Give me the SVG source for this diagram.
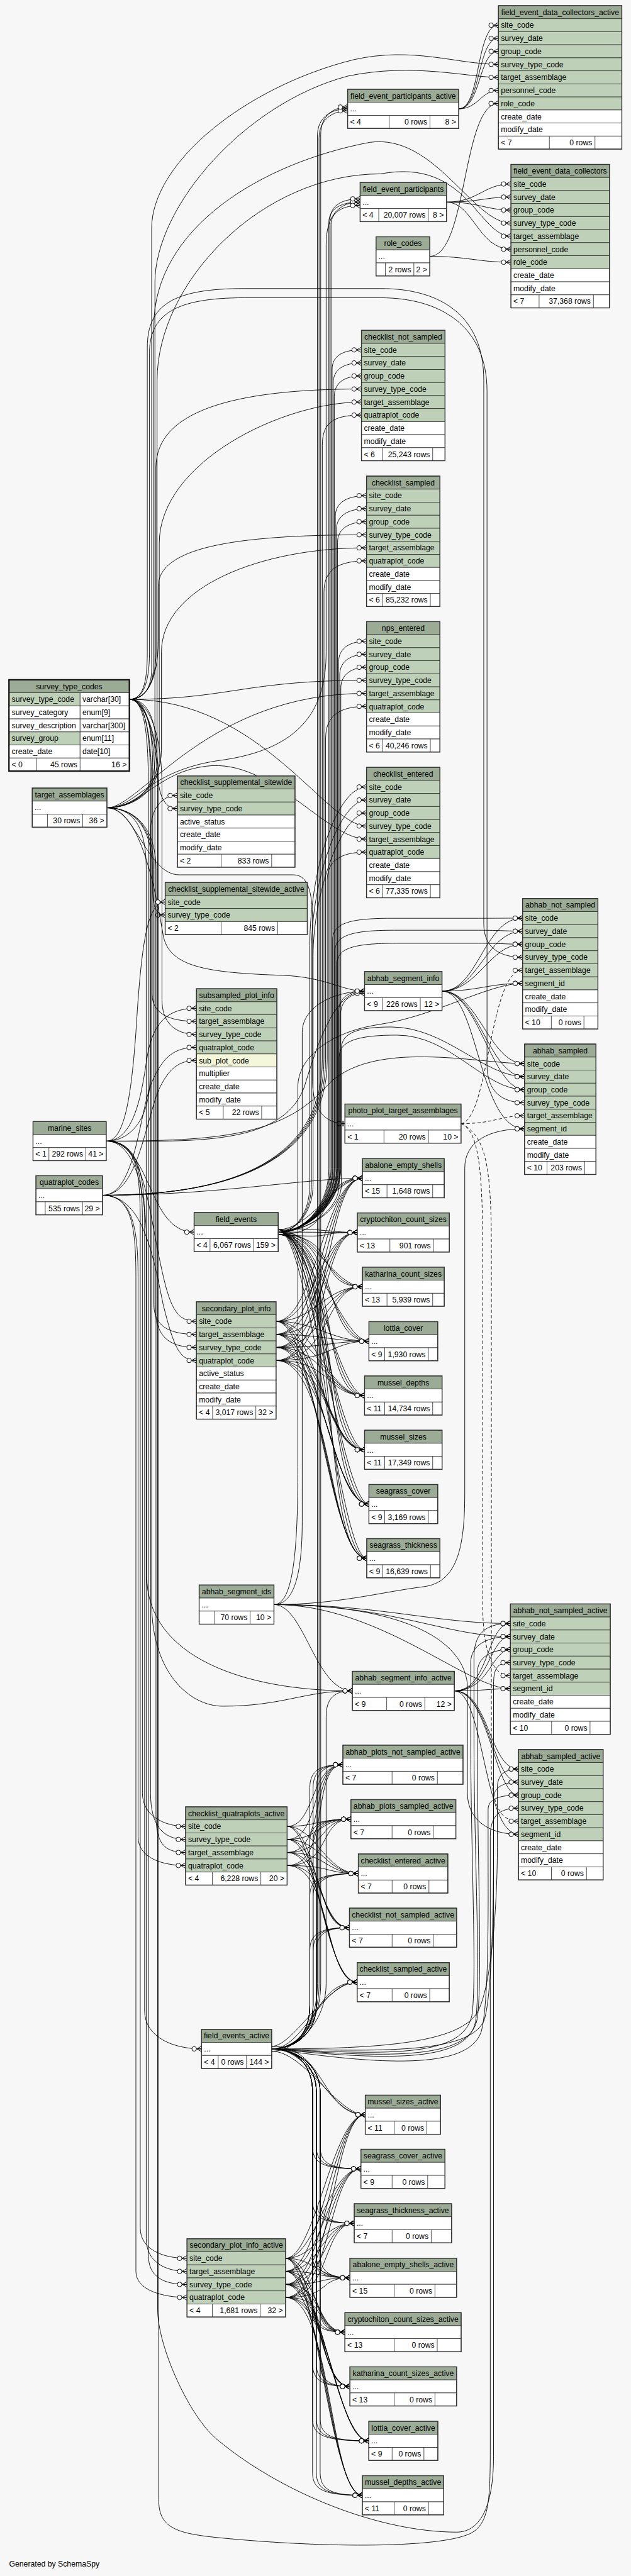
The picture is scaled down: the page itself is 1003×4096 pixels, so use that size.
<svg xmlns="http://www.w3.org/2000/svg" width="1003" height="4096" viewBox="0 0 1003 4096">
<style>
text{font-family:"Liberation Sans",Arial,Helvetica,sans-serif;font-size:14.2px;fill:#000}
.c{text-anchor:middle}
.r{text-anchor:end}
.h{fill:#9bab96;stroke:#333;stroke-width:1}
.k{fill:#bed1b8;stroke:#333;stroke-width:1}
.w{fill:#fff;stroke:#333;stroke-width:1}
.y{fill:#f4f7da;stroke:#333;stroke-width:1}
.o{fill:none;stroke:#333;stroke-width:1.6}
.v{fill:none;stroke:#333;stroke-width:1}
#connectors path{fill:none;stroke:#000;stroke-width:1.05;marker-end:url(#cf)}
#connectors path.d{stroke-dasharray:6 4}
#connectors path.t{marker-end:url(#to)}
</style>
<defs>
<marker id="cf" viewBox="-20 -8 21 16" refX="0" refY="0" markerWidth="21" markerHeight="16" markerUnits="userSpaceOnUse" orient="auto">
<path d="M-9 0L0-5M-9 0H0M-9 0L0 5" fill="none" stroke="#000" stroke-width="1.1"/>
<circle cx="-13.5" cy="0" r="4.2" fill="#fff" stroke="#000" stroke-width="1.1"/>
</marker>
<marker id="to" viewBox="-20 -8 21 16" refX="0" refY="0" markerWidth="21" markerHeight="16" markerUnits="userSpaceOnUse" orient="auto">
<path d="M-3.5-5V5" fill="none" stroke="#000" stroke-width="2"/>
<circle cx="-10.5" cy="0" r="4.2" fill="#fff" stroke="#000" stroke-width="1.1"/>
</marker>
</defs>
<rect x="0" y="0" width="1003" height="4096" fill="#f7f7f7"/>
<g transform="scale(0.864)">
<g id="connectors">
<path d="M843.9 200.3C885 200.3 875 46.4 917 46.4"/>
<path d="M843.9 200.3C885 200.3 878 70.4 917 70.4"/>
<path d="M843.9 200.3C885 200.3 880 94.4 917 94.4"/>
<path d="M843.9 200.3C880 200.3 885 166.4 917 166.4"/>
<path d="M790.7 471.8C860 471.8 850 190.4 917 190.4"/>
<path d="M790.7 471.8C860 471.8 880 482.6 940 482.6"/>
<path d="M821.4 371.9C880 371.9 890 338.6 940 338.6"/>
<path d="M821.4 371.9C880 371.9 895 362.6 940 362.6"/>
<path d="M821.4 371.9C880 371.9 895 386.6 940 386.6"/>
<path d="M821.4 371.9C870 371.9 880 458.6 940 458.6"/>
<path d="M238 1287C262 1287 279 1270 279 1230L279 420C279 300 450 160 650 110C760 85 840 118.4 917 118.4"/>
<path d="M238 1287C264 1287 283 1265 283 1220L283 600C283 420 480 300 680 262C800 245 870 410.6 940 410.6"/>
<path d="M238 1287C266 1287 287 1260 287 1200L287 860C287 760 420 715.9 665 715.9"/>
<path d="M238 1287C270 1287 291 1250 291 1180L291 1080C291 1010 420 984.2 674.3 984.2"/>
<path d="M238 1287C420 1287 450 1252 674.3 1252"/>
<path d="M238 1287C480 1287 600 1520.2 674.3 1520.2"/>
<path d="M238 1287C275 1287 289 1330 289 1400C289 1460 300 1488 326.4 1488"/>
<path d="M238 1287C268 1287 281 1330 281 1420L281 1640C281 1670 288 1684 303.9 1684"/>
<path d="M238 1287C270 1287 298 1340 298 1450L298 1840C298 1880 320 1903.6 361.4 1903.6"/>
<path d="M238 1287C268 1287 285 1340 285 1450L285 2400C285 2460 310 2479.7 361.4 2479.7"/>
<path d="M238 1287C266 1287 277 1340 277 1450L277 3300C277 3360 300 3385.2 341.5 3385.2"/>
<path d="M238 1287C264 1287 273 1340 273 1450L273 4150C273 4190 300 4204.1 344 4204.1"/>
<path d="M238 1287C262 1287 271 1260 271 1200L271 640C271 560 320 531 450 531L700 531C810 531 890 580 890 700L890 1700C890 1745 920 1761.7 961.4 1761.7"/>
<path d="M238 1287C262 1287 275 1260 275 1200L275 650C275 580 320 548 450 548L700 548C810 548 896 600 896 720L896 1960C896 2010 925 2029.4 965 2029.4"/>
<path d="M238 1287C262 1287 292 1340 292 1450L292 4600C292 4650 320 4662 400 4670C600 4690 820 4690 870 4660C900 4640 902 4600 902 4500L902 3380C902 3340 920 3327.7 953.9 3327.7"/>
<path d="M238 1287C262 1287 290 1340 290 1450L290 4250C290 4320 350 4450 400 4490C520 4590 700 4660 840 4660C880 4660 908 4620 908 4520L908 3100C908 3070 915 3059.8 939 3059.8"/>
<path d="M238 1287C264 1287 279 1340 279 1450L279 2950C279 3080 350 3140 410 3140C520 3140 560 3111.8 648.3 3111.8"/>
<path d="M196.7 1486.7C240 1486.7 285 1460 285 1400L285 520C285 380 450 190 640 140C760 115 860 142.4 917 142.4"/>
<path d="M196.7 1486.7C240 1486.7 289 1460 289 1400L289 700C289 520 480 320 700 320C860 290 880 434.6 940 434.6"/>
<path d="M196.7 1486.7C240 1486.7 293 1460 293 1400L293 1000C293 850 520 739.9 665 739.9"/>
<path d="M196.7 1486.7C240 1486.7 297 1450 297 1380L297 1200C297 1080 480 1008.2 674.3 1008.2"/>
<path d="M196.7 1486.7C260 1486.7 380 1276 674.3 1276"/>
<path d="M196.7 1486.7C260 1486.7 290 1420 380 1410C500 1395 600 1544.2 674.3 1544.2"/>
<path class="t" d="M196.7 1486.7C250 1486.7 270 1610 330 1610L540 1610C570 1610 575 1650 575 1700L575 1990C575 2045 600 2067.8 634.6 2067.8"/>
<path d="M196.7 1486.7C245 1486.7 280 1520 280 1600L280 1830C280 1865 310 1879.6 361.4 1879.6"/>
<path d="M196.7 1486.7C245 1486.7 283 1520 283 1600L283 2400C283 2440 310 2455.7 361.4 2455.7"/>
<path d="M196.7 1486.7C245 1486.7 287 1520 287 1600L287 3340C287 3390 300 3409.2 341.5 3409.2"/>
<path d="M196.7 1486.7C245 1486.7 269 1520 269 1600L269 4120C269 4160 300 4180.1 344 4180.1"/>
<path d="M196.7 1486.7C250 1486.7 270 1420 400 1400C560 1380 600 1300 600 1200L600 450C600 395 625 371.9 662.5 371.9"/>
<path d="M196.7 1486.7C250 1486.7 280 1600 300 1720C310 1780 380 1790 520 1795C600 1798 630 1824 670.7 1824"/>
<path d="M195.4 2100C240 2100 276 2060 276 1980L276 1540C276 1490 295 1464 326.4 1464"/>
<path d="M195.4 2100C225 2100 240 2040 250 1900C260 1740 270 1660 303.9 1660"/>
<path d="M195.4 2100C250 2100 262 2000 270 1950C280 1880 310 1855.6 361.4 1855.6"/>
<path d="M195.4 2100C280 2100 270 2267.5 357.1 2267.5"/>
<path d="M195.4 2100C260 2100 270 2200 290 2300C310 2400 320 2431.7 361.4 2431.7"/>
<path d="M195.4 2100C250 2100 262 2150 262 2250L262 3300C262 3340 300 3361.2 341.5 3361.2"/>
<path d="M195.4 2100C250 2100 266 2150 266 2250L266 3700C266 3750 320 3770.7 370.8 3770.7"/>
<path d="M195.4 2100C250 2100 258 2150 258 2250L258 4100C258 4140 300 4156.1 344 4156.1"/>
<path d="M195.4 2100C350 2100 520 2110 560 2000C590 1900 620 1824 670.7 1824"/>
<path d="M195.4 2100C250 2100 270 2200 270 2300L270 2900C270 3050 450 3111.8 648.3 3111.8"/>
<path d="M195.4 2100C400 2100 520 2090 600 2000C680 1910 880 1957.4 965 1957.4"/>
<path d="M188.6 2199.7C250 2199.7 255 2050 280 1990C300 1945 320 1927.6 361.4 1927.6"/>
<path d="M188.6 2199.7C250 2199.7 265 2080 290 2010C310 1965 330 1951.6 361.4 1951.6"/>
<path d="M188.6 2199.7C260 2199.7 280 2300 300 2400C320 2480 330 2503.7 361.4 2503.7"/>
<path d="M188.6 2199.7C240 2199.7 254 2250 254 2350L254 3380C254 3420 300 3433.2 341.5 3433.2"/>
<path d="M188.6 2199.7C240 2199.7 250 2250 250 2350L250 4180C250 4215 300 4228.1 344 4228.1"/>
<path d="M188.6 2199.7C400 2199.7 593 2150 593 1950L593 820C593 780 610 763.9 665 763.9"/>
<path d="M188.6 2199.7C400 2199.7 596 2150 596 1950L596 1090C596 1050 620 1032.2 674.3 1032.2"/>
<path d="M188.6 2199.7C400 2199.7 599 2150 599 1950L599 1360C599 1320 620 1300 674.3 1300"/>
<path d="M188.6 2199.7C400 2199.7 602 2150 602 1950L602 1620C602 1585 625 1568.2 674.3 1568.2"/>
<path d="M188.6 2199.7C400 2199.7 560 2168.3 666.7 2168.3"/>
<path d="M511.8 2267.5C560 2267.5 605 2220 605 2150L605 410C605 382 630 371.9 662.5 371.9"/>
<path d="M511.8 2267.5C560 2267.5 607 2220 607 2150L607 406C607 376 632 366 662.5 366"/>
<path d="M511.8 2267.5C560 2267.5 609 2220 609 2150L609 414C609 388 634 378 662.5 378"/>
<path d="M511.8 2267.5C560 2267.5 611 2220 611 2150L611 680C611 655 630 643.9 665 643.9"/>
<path d="M511.8 2267.5C560 2267.5 613 2220 613 2150L613 705C613 680 632 667.9 665 667.9"/>
<path d="M511.8 2267.5C560 2267.5 615 2220 615 2150L615 730C615 704 634 691.9 665 691.9"/>
<path d="M511.8 2267.5C560 2267.5 617 2220 617 2150L617 950C617 924 640 912.2 674.3 912.2"/>
<path d="M511.8 2267.5C560 2267.5 619 2220 619 2150L619 974C619 948 642 936.2 674.3 936.2"/>
<path d="M511.8 2267.5C560 2267.5 621 2220 621 2150L621 998C621 972 644 960.2 674.3 960.2"/>
<path d="M511.8 2267.5C560 2267.5 623 2220 623 2150L623 1218C623 1192 645 1180 674.3 1180"/>
<path d="M511.8 2267.5C560 2267.5 625 2220 625 2150L625 1242C625 1216 647 1204 674.3 1204"/>
<path d="M511.8 2267.5C560 2267.5 627 2220 627 2150L627 1266C627 1240 649 1228 674.3 1228"/>
<path d="M511.8 2267.5C545 2267.5 570 2230 570 2180L570 1740C570 1600 620 1448.2 674.3 1448.2"/>
<path d="M511.8 2267.5C545 2267.5 573 2230 573 2180L573 1750C573 1620 625 1472.2 674.3 1472.2"/>
<path d="M511.8 2267.5C545 2267.5 576 2230 576 2180L576 1760C576 1640 630 1496.2 674.3 1496.2"/>
<path d="M511.8 2267.5C560 2267.5 622 2220 622 2150L622 1870C622 1836 640 1824 670.7 1824"/>
<path d="M511.8 2267.5C560 2267.5 626 2220 626 2150L626 1872C626 1840 645 1828 670.7 1828"/>
<path d="M511.8 2267.5C560 2267.5 612 2220 612 2150L612 1730C612 1700 640 1690 720 1690L880 1690C920 1690 935 1689.7 961.4 1689.7"/>
<path d="M511.8 2267.5C560 2267.5 616 2220 616 2150L616 1752C616 1722 645 1712 725 1712L880 1712C920 1712 935 1713.7 961.4 1713.7"/>
<path d="M511.8 2267.5C560 2267.5 620 2220 620 2150L620 1774C620 1745 650 1736 730 1736L880 1736C920 1736 935 1737.7 961.4 1737.7"/>
<path d="M511.8 2267.5C560 2267.5 628 2230 628 2180L628 1930C628 1900 660 1890 720 1890C820 1890 890 1981.4 965 1981.4"/>
<path d="M511.8 2267.5C560 2267.5 624 2230 624 2180L624 1945C624 1915 660 1905 730 1905C830 1905 890 2005.4 965 2005.4"/>
<path d="M813.2 1824C880 1824 890 1689.7 961.4 1689.7"/>
<path d="M813.2 1824C880 1824 895 1713.7 961.4 1713.7"/>
<path d="M813.2 1824C880 1824 900 1737.7 961.4 1737.7"/>
<path d="M813.2 1824C880 1824 900 1809.7 961.4 1809.7"/>
<path d="M813.2 1824C880 1824 900 1957.4 965 1957.4"/>
<path d="M813.2 1824C880 1824 900 1981.4 965 1981.4"/>
<path d="M813.2 1824C880 1824 905 2005.4 965 2005.4"/>
<path d="M813.2 1824C880 1824 880 2077.4 965 2077.4"/>
<path d="M504 2953C540 2953 556 2900 556 2800L556 1900C556 1850 620 1824 670.7 1824"/>
<path d="M504 2953C560 2953 580 3111.8 648.3 3111.8"/>
<path d="M504 2953C700 2953 800 2987.8 939 2987.8"/>
<path d="M504 2953C700 2953 860 3107.8 939 3107.8"/>
<path d="M504 2953C620 2953 700 2930 780 2920C840 2912 855 2850 855 2750L855 2150C855 2100 900 2077.4 965 2077.4"/>
<path d="M504 2953C700 2953 850 3000 860 3100L860 3300C860 3350 900 3375.7 953.9 3375.7"/>
<path d="M504 2953C540 2953 548 2850 548 2700L548 2000C548 1950 600 1900 700 1885C800 1870 900 1809.7 961.4 1809.7"/>
<path d="M504 2953C720 2953 820 3011.8 939 3011.8"/>
<path d="M835.9 3111.8C900 3111.8 895 2987.8 939 2987.8"/>
<path d="M835.9 3111.8C900 3111.8 900 3011.8 939 3011.8"/>
<path d="M835.9 3111.8C900 3111.8 905 3035.8 939 3035.8"/>
<path d="M835.9 3111.8C890 3111.8 900 3107.8 939 3107.8"/>
<path d="M835.9 3111.8C900 3111.8 900 3255.7 953.9 3255.7"/>
<path d="M835.9 3111.8C900 3111.8 905 3279.7 953.9 3279.7"/>
<path d="M835.9 3111.8C900 3111.8 910 3303.7 953.9 3303.7"/>
<path d="M835.9 3111.8C890 3111.8 890 3375.7 953.9 3375.7"/>
<path class="d" d="M848.2 2067.8C900 2060 900 1785.7 961.4 1785.7"/>
<path class="d" d="M848.2 2067.8C910 2067.8 920 2053.4 965 2053.4"/>
<path class="d" d="M848.2 2067.8C880 2080 888 2150 888 2300L888 2950C888 3050 910 3083.8 939 3083.8"/>
<path class="d" d="M848.2 2067.8C895 2090 904 2150 904 2300L904 3250C904 3330 925 3351.7 953.9 3351.7"/>
<path d="M499.8 3770.7C700 3770.7 850 3760 880 3700C905 3650 915 3500 915 3400L915 3290C915 3265 930 3255.7 953.9 3255.7"/>
<path d="M499.8 3770.7C700 3775 860 3780 890 3720C905 3680 908 3500 908 3420L908 3310C908 3290 925 3279.7 953.9 3279.7"/>
<path d="M499.8 3770.7C700 3800 860 3810 885 3740C900 3690 898 3500 898 3420L898 3330C898 3310 920 3303.7 953.9 3303.7"/>
<path d="M499.8 3770.7C700 3790 860 3800 875 3720C885 3650 872 3400 872 3200L872 3050C872 3000 900 2987.8 939 2987.8"/>
<path d="M499.8 3770.7C700 3780 850 3790 868 3710C878 3650 866 3400 866 3200L866 3060C866 3025 900 3011.8 939 3011.8"/>
<path d="M499.8 3770.7C700 3785 865 3795 878 3715C888 3650 878 3400 878 3200L878 3080C878 3048 905 3035.8 939 3035.8"/>
<path d="M499.8 3770.7C550 3770.7 600 3720 600 3650L600 3160C600 3125 615 3111.8 648.3 3111.8"/>
<path d="M499.8 3770.7C545 3770.7 584 3730 584 3650L584 250C584 215 610 200.3 639.6 200.3"/>
<path d="M499.8 3770.7C545 3770.7 587 3730 587 3650L587 254C587 220 612 204 639.6 204"/>
<path d="M499.8 3770.7C545 3770.7 590 3730 590 3650L590 248C590 212 614 197 639.6 197"/>
<path d="M511.8 2267.5C600 2267.5 596.7 2168.3 666.7 2168.3"/>
<path d="M511.8 2263C570 2263 616.7 2168.3 666.7 2168.3"/>
<path d="M511.8 2272C630 2272 576.7 2168.3 666.7 2168.3"/>
<path d="M511.8 2267.5C600 2267.5 587.3 2268.2 657.3 2268.2"/>
<path d="M511.8 2263C570 2258 607.3 2268.2 657.3 2268.2"/>
<path d="M511.8 2272C630 2280 567.3 2268.2 657.3 2268.2"/>
<path d="M511.8 2267.5C600 2267.5 596.7 2368 666.7 2368"/>
<path d="M511.8 2263C570 2263 616.7 2368 666.7 2368"/>
<path d="M511.8 2272C630 2272 576.7 2368 666.7 2368"/>
<path d="M511.8 2267.5C600 2267.5 608.7 2468.3 678.7 2468.3"/>
<path d="M511.8 2263C570 2263 628.7 2468.3 678.7 2468.3"/>
<path d="M511.8 2272C630 2272 588.7 2468.3 678.7 2468.3"/>
<path d="M511.8 2267.5C600 2267.5 600.7 2568.2 670.7 2568.2"/>
<path d="M511.8 2263C570 2263 620.7 2568.2 670.7 2568.2"/>
<path d="M511.8 2272C630 2272 580.7 2568.2 670.7 2568.2"/>
<path d="M511.8 2267.5C600 2267.5 600.7 2668.1 670.7 2668.1"/>
<path d="M511.8 2263C570 2263 620.7 2668.1 670.7 2668.1"/>
<path d="M511.8 2272C630 2272 580.7 2668.1 670.7 2668.1"/>
<path d="M511.8 2267.5C600 2267.5 608.7 2768 678.7 2768"/>
<path d="M511.8 2263C570 2263 628.7 2768 678.7 2768"/>
<path d="M511.8 2272C630 2272 588.7 2768 678.7 2768"/>
<path d="M511.8 2267.5C600 2267.5 604.7 2867.7 674.7 2867.7"/>
<path d="M511.8 2263C570 2263 624.7 2867.7 674.7 2867.7"/>
<path d="M511.8 2272C630 2272 584.7 2867.7 674.7 2867.7"/>
<path d="M507.9 2431.7C580 2431.7 596.7 2168.3 666.7 2168.3"/>
<path d="M507.9 2455.7C590 2455.7 596.7 2168.3 666.7 2168.3"/>
<path d="M507.9 2479.7C600 2479.7 596.7 2168.3 666.7 2168.3"/>
<path d="M507.9 2503.7C610 2503.7 596.7 2168.3 666.7 2168.3"/>
<path d="M507.9 2431.7C580 2431.7 587.3 2268.2 657.3 2268.2"/>
<path d="M507.9 2455.7C590 2455.7 587.3 2268.2 657.3 2268.2"/>
<path d="M507.9 2479.7C600 2479.7 587.3 2268.2 657.3 2268.2"/>
<path d="M507.9 2503.7C610 2503.7 587.3 2268.2 657.3 2268.2"/>
<path d="M507.9 2431.7C580 2431.7 596.7 2368 666.7 2368"/>
<path d="M507.9 2455.7C590 2455.7 596.7 2368 666.7 2368"/>
<path d="M507.9 2479.7C600 2479.7 596.7 2368 666.7 2368"/>
<path d="M507.9 2503.7C610 2503.7 596.7 2368 666.7 2368"/>
<path d="M507.9 2431.7C580 2431.7 608.7 2468.3 678.7 2468.3"/>
<path d="M507.9 2455.7C590 2455.7 608.7 2468.3 678.7 2468.3"/>
<path d="M507.9 2479.7C600 2479.7 608.7 2468.3 678.7 2468.3"/>
<path d="M507.9 2503.7C610 2503.7 608.7 2468.3 678.7 2468.3"/>
<path d="M507.9 2431.7C580 2431.7 600.7 2568.2 670.7 2568.2"/>
<path d="M507.9 2455.7C590 2455.7 600.7 2568.2 670.7 2568.2"/>
<path d="M507.9 2479.7C600 2479.7 600.7 2568.2 670.7 2568.2"/>
<path d="M507.9 2503.7C610 2503.7 600.7 2568.2 670.7 2568.2"/>
<path d="M507.9 2431.7C580 2431.7 600.7 2668.1 670.7 2668.1"/>
<path d="M507.9 2455.7C590 2455.7 600.7 2668.1 670.7 2668.1"/>
<path d="M507.9 2479.7C600 2479.7 600.7 2668.1 670.7 2668.1"/>
<path d="M507.9 2503.7C610 2503.7 600.7 2668.1 670.7 2668.1"/>
<path d="M507.9 2431.7C580 2431.7 608.7 2768 678.7 2768"/>
<path d="M507.9 2455.7C590 2455.7 608.7 2768 678.7 2768"/>
<path d="M507.9 2479.7C600 2479.7 608.7 2768 678.7 2768"/>
<path d="M507.9 2503.7C610 2503.7 608.7 2768 678.7 2768"/>
<path d="M507.9 2431.7C580 2431.7 604.7 2867.7 674.7 2867.7"/>
<path d="M507.9 2455.7C590 2455.7 604.7 2867.7 674.7 2867.7"/>
<path d="M507.9 2479.7C600 2479.7 604.7 2867.7 674.7 2867.7"/>
<path d="M507.9 2503.7C610 2503.7 604.7 2867.7 674.7 2867.7"/>
<path d="M528.2 3361.2C580 3361.2 570.8 3247.7 630.8 3247.7"/>
<path d="M528.2 3385.2C590 3385.2 570.8 3247.7 630.8 3247.7"/>
<path d="M528.2 3409.2C600 3409.2 570.8 3247.7 630.8 3247.7"/>
<path d="M528.2 3433.2C610 3433.2 570.8 3247.7 630.8 3247.7"/>
<path d="M528.2 3361.2C580 3361.2 585.6 3347.9 645.6 3347.9"/>
<path d="M528.2 3385.2C590 3385.2 585.6 3347.9 645.6 3347.9"/>
<path d="M528.2 3409.2C600 3409.2 585.6 3347.9 645.6 3347.9"/>
<path d="M528.2 3433.2C610 3433.2 585.6 3347.9 645.6 3347.9"/>
<path d="M528.2 3361.2C580 3361.2 599.2 3447.9 659.2 3447.9"/>
<path d="M528.2 3385.2C590 3385.2 599.2 3447.9 659.2 3447.9"/>
<path d="M528.2 3409.2C600 3409.2 599.2 3447.9 659.2 3447.9"/>
<path d="M528.2 3433.2C610 3433.2 599.2 3447.9 659.2 3447.9"/>
<path d="M528.2 3361.2C580 3361.2 582.9 3547.6 642.9 3547.6"/>
<path d="M528.2 3385.2C590 3385.2 582.9 3547.6 642.9 3547.6"/>
<path d="M528.2 3409.2C600 3409.2 582.9 3547.6 642.9 3547.6"/>
<path d="M528.2 3433.2C610 3433.2 582.9 3547.6 642.9 3547.6"/>
<path d="M528.2 3361.2C580 3361.2 597.1 3647.9 657.1 3647.9"/>
<path d="M528.2 3385.2C590 3385.2 597.1 3647.9 657.1 3647.9"/>
<path d="M528.2 3409.2C600 3409.2 597.1 3647.9 657.1 3647.9"/>
<path d="M528.2 3433.2C610 3433.2 597.1 3647.9 657.1 3647.9"/>
<path d="M499.8 3770.7C545 3770.7 570 3740 570 3690L570 3290C570 3258 590 3247.7 630.8 3247.7"/>
<path d="M499.8 3770.7C545 3770.7 576 3740 576 3690L576 3290C576 3258 596 3247.7 630.8 3247.7"/>
<path d="M499.8 3770.7C545 3770.7 582 3740 582 3690L582 3290C582 3258 602 3247.7 630.8 3247.7"/>
<path d="M499.8 3770.7C545 3770.7 570 3740 570 3690L570 3390C570 3358 590 3347.9 645.6 3347.9"/>
<path d="M499.8 3770.7C545 3770.7 576 3740 576 3690L576 3390C576 3358 596 3347.9 645.6 3347.9"/>
<path d="M499.8 3770.7C545 3770.7 582 3740 582 3690L582 3390C582 3358 602 3347.9 645.6 3347.9"/>
<path d="M499.8 3770.7C545 3770.7 570 3740 570 3690L570 3490C570 3458 590 3447.9 659.2 3447.9"/>
<path d="M499.8 3770.7C545 3770.7 576 3740 576 3690L576 3490C576 3458 596 3447.9 659.2 3447.9"/>
<path d="M499.8 3770.7C545 3770.7 582 3740 582 3690L582 3490C582 3458 602 3447.9 659.2 3447.9"/>
<path d="M499.8 3770.7C545 3770.7 570 3740 570 3690L570 3590C570 3558 590 3547.6 642.9 3547.6"/>
<path d="M499.8 3770.7C545 3770.7 576 3740 576 3690L576 3590C576 3558 596 3547.6 642.9 3547.6"/>
<path d="M499.8 3770.7C545 3770.7 582 3740 582 3690L582 3590C582 3558 602 3547.6 642.9 3547.6"/>
<path d="M499.8 3770.7C560 3770.7 590 3647.9 657.1 3647.9"/>
<path d="M499.8 3766C540 3766 600 3647.9 657.1 3647.9"/>
<path d="M499.8 3775C580 3775 570 3647.9 657.1 3647.9"/>
<path d="M499.8 3770.7C580 3770.7 600 3891.8 672 3891.8"/>
<path d="M499.8 3775C560 3775 620 3891.8 672 3891.8"/>
<path d="M499.8 3766C600 3766 590 3891.8 672 3891.8"/>
<path d="M499.8 3770.7C545 3770.7 575 3800 575 3850L575 3950C575 3982 595 3991.4 664 3991.4"/>
<path d="M499.8 3770.7C545 3770.7 582 3800 582 3850L582 3950C582 3982 602 3991.4 664 3991.4"/>
<path d="M499.8 3770.7C545 3770.7 589 3800 589 3850L589 3950C589 3982 609 3991.4 664 3991.4"/>
<path d="M499.8 3770.7C545 3770.7 575 3800 575 3850L575 4050C575 4082 595 4091.6 651.7 4091.6"/>
<path d="M499.8 3770.7C545 3770.7 582 3800 582 3850L582 4050C582 4082 602 4091.6 651.7 4091.6"/>
<path d="M499.8 3770.7C545 3770.7 589 3800 589 3850L589 4050C589 4082 609 4091.6 651.7 4091.6"/>
<path d="M499.8 3770.7C545 3770.7 575 3800 575 3850L575 4150C575 4182 595 4191.9 643.7 4191.9"/>
<path d="M499.8 3770.7C545 3770.7 582 3800 582 3850L582 4150C582 4182 602 4191.9 643.7 4191.9"/>
<path d="M499.8 3770.7C545 3770.7 589 3800 589 3850L589 4150C589 4182 609 4191.9 643.7 4191.9"/>
<path d="M499.8 3770.7C545 3770.7 575 3800 575 3850L575 4250C575 4282 595 4292 634.5 4292"/>
<path d="M499.8 3770.7C545 3770.7 582 3800 582 3850L582 4250C582 4282 602 4292 634.5 4292"/>
<path d="M499.8 3770.7C545 3770.7 589 3800 589 3850L589 4250C589 4282 609 4292 634.5 4292"/>
<path d="M499.8 3770.7C545 3770.7 575 3800 575 3850L575 4350C575 4382 595 4391.8 643.7 4391.8"/>
<path d="M499.8 3770.7C545 3770.7 582 3800 582 3850L582 4350C582 4382 602 4391.8 643.7 4391.8"/>
<path d="M499.8 3770.7C545 3770.7 589 3800 589 3850L589 4350C589 4382 609 4391.8 643.7 4391.8"/>
<path d="M499.8 3770.7C545 3770.7 575 3800 575 3850L575 4450C575 4482 595 4492 678.5 4492"/>
<path d="M499.8 3770.7C545 3770.7 582 3800 582 3850L582 4450C582 4482 602 4492 678.5 4492"/>
<path d="M499.8 3770.7C545 3770.7 589 3800 589 3850L589 4450C589 4482 609 4492 678.5 4492"/>
<path d="M499.8 3770.7C545 3770.7 575 3800 575 3850L575 4550C575 4582 595 4592.2 666.6 4592.2"/>
<path d="M499.8 3770.7C545 3770.7 582 3800 582 3850L582 4550C582 4582 602 4592.2 666.6 4592.2"/>
<path d="M499.8 3770.7C545 3770.7 589 3800 589 3850L589 4550C589 4582 609 4592.2 666.6 4592.2"/>
<path d="M525.4 4156.1C580 4156.1 612 3891.8 672 3891.8"/>
<path d="M525.4 4180.1C590 4180.1 612 3891.8 672 3891.8"/>
<path d="M525.4 4204.1C600 4204.1 612 3891.8 672 3891.8"/>
<path d="M525.4 4228.1C610 4228.1 612 3891.8 672 3891.8"/>
<path d="M525.4 4156.1C580 4156.1 604 3991.4 664 3991.4"/>
<path d="M525.4 4180.1C590 4180.1 604 3991.4 664 3991.4"/>
<path d="M525.4 4204.1C600 4204.1 604 3991.4 664 3991.4"/>
<path d="M525.4 4228.1C610 4228.1 604 3991.4 664 3991.4"/>
<path d="M525.4 4156.1C580 4156.1 591.7 4091.6 651.7 4091.6"/>
<path d="M525.4 4180.1C590 4180.1 591.7 4091.6 651.7 4091.6"/>
<path d="M525.4 4204.1C600 4204.1 591.7 4091.6 651.7 4091.6"/>
<path d="M525.4 4228.1C610 4228.1 591.7 4091.6 651.7 4091.6"/>
<path d="M525.4 4156.1C580 4156.1 583.7 4191.9 643.7 4191.9"/>
<path d="M525.4 4180.1C590 4180.1 583.7 4191.9 643.7 4191.9"/>
<path d="M525.4 4204.1C600 4204.1 583.7 4191.9 643.7 4191.9"/>
<path d="M525.4 4228.1C610 4228.1 583.7 4191.9 643.7 4191.9"/>
<path d="M525.4 4156.1C580 4156.1 574.5 4292 634.5 4292"/>
<path d="M525.4 4180.1C590 4180.1 574.5 4292 634.5 4292"/>
<path d="M525.4 4204.1C600 4204.1 574.5 4292 634.5 4292"/>
<path d="M525.4 4228.1C610 4228.1 574.5 4292 634.5 4292"/>
<path d="M525.4 4156.1C580 4156.1 583.7 4391.8 643.7 4391.8"/>
<path d="M525.4 4180.1C590 4180.1 583.7 4391.8 643.7 4391.8"/>
<path d="M525.4 4204.1C600 4204.1 583.7 4391.8 643.7 4391.8"/>
<path d="M525.4 4228.1C610 4228.1 583.7 4391.8 643.7 4391.8"/>
<path d="M525.4 4156.1C580 4156.1 618.5 4492 678.5 4492"/>
<path d="M525.4 4180.1C590 4180.1 618.5 4492 678.5 4492"/>
<path d="M525.4 4204.1C600 4204.1 618.5 4492 678.5 4492"/>
<path d="M525.4 4228.1C610 4228.1 618.5 4492 678.5 4492"/>
<path d="M525.4 4156.1C580 4156.1 606.6 4592.2 666.6 4592.2"/>
<path d="M525.4 4180.1C590 4180.1 606.6 4592.2 666.6 4592.2"/>
<path d="M525.4 4204.1C600 4204.1 606.6 4592.2 666.6 4592.2"/>
<path d="M525.4 4228.1C610 4228.1 606.6 4592.2 666.6 4592.2"/>
</g>

<g id="field_event_data_collectors_active">
<rect class="h" x="917" y="10.4" width="227" height="24"/><text class="c" x="1030.5" y="27.4">field_event_data_collectors_active</text>
<rect class="k" x="917" y="34.4" width="227" height="24"/><text x="921.5" y="51.4">site_code</text>
<rect class="k" x="917" y="58.4" width="227" height="24"/><text x="921.5" y="75.4">survey_date</text>
<rect class="k" x="917" y="82.4" width="227" height="24"/><text x="921.5" y="99.4">group_code</text>
<rect class="k" x="917" y="106.4" width="227" height="24"/><text x="921.5" y="123.4">survey_type_code</text>
<rect class="k" x="917" y="130.4" width="227" height="24"/><text x="921.5" y="147.4">target_assemblage</text>
<rect class="k" x="917" y="154.4" width="227" height="24"/><text x="921.5" y="171.4">personnel_code</text>
<rect class="k" x="917" y="178.4" width="227" height="24"/><text x="921.5" y="195.4">role_code</text>
<rect class="w" x="917" y="202.4" width="227" height="24"/><text x="921.5" y="219.4">create_date</text>
<rect class="w" x="917" y="226.4" width="227" height="24"/><text x="921.5" y="243.4">modify_date</text>
<rect class="w" x="917" y="250.4" width="227" height="24"/><path class="v" d="M1010.7 250.4v24M1094.6 250.4v24"/>
<text x="921.5" y="267.4">&lt; 7</text><text class="r" x="1089.6" y="267.4">0 rows</text>
<rect class="o" x="917" y="10.4" width="227" height="264"/>
</g>

<g id="field_event_participants_active">
<rect class="h" x="639.6" y="164.3" width="204.3" height="24"/><text class="c" x="741.75" y="181.3">field_event_participants_active</text>
<rect class="w" x="639.6" y="188.3" width="204.3" height="24"/><text x="644.1" y="205.3">...</text>
<rect class="w" x="639.6" y="212.3" width="204.3" height="24"/><path class="v" d="M716 212.3v24M791 212.3v24"/>
<text x="644.1" y="229.3">&lt; 4</text><text class="r" x="786" y="229.3">0 rows</text><text class="r" x="838.9" y="229.3">8 &gt;</text>
<rect class="o" x="639.6" y="164.3" width="204.3" height="72"/>
</g>

<g id="field_event_participants">
<rect class="h" x="662.5" y="335.9" width="158.9" height="24"/><text class="c" x="741.95" y="352.9">field_event_participants</text>
<rect class="w" x="662.5" y="359.9" width="158.9" height="24"/><text x="667" y="376.9">...</text>
<rect class="w" x="662.5" y="383.9" width="158.9" height="24"/><path class="v" d="M696.8 383.9v24M787.9 383.9v24"/>
<text x="667" y="400.9">&lt; 4</text><text class="r" x="782.9" y="400.9">20,007 rows</text><text class="r" x="816.4" y="400.9">8 &gt;</text>
<rect class="o" x="662.5" y="335.9" width="158.9" height="72"/>
</g>

<g id="role_codes">
<rect class="h" x="691.8" y="435.8" width="98.9" height="24"/><text class="c" x="741.25" y="452.8">role_codes</text>
<rect class="w" x="691.8" y="459.8" width="98.9" height="24"/><text x="696.3" y="476.8">...</text>
<rect class="w" x="691.8" y="483.8" width="98.9" height="24"/><path class="v" d="M708.9 483.8v24M761.4 483.8v24"/>
<text class="r" x="756.4" y="500.8">2 rows</text><text class="r" x="785.7" y="500.8">2 &gt;</text>
<rect class="o" x="691.8" y="435.8" width="98.9" height="72"/>
</g>

<g id="field_event_data_collectors">
<rect class="h" x="940" y="302.6" width="181.4" height="24"/><text class="c" x="1030.7" y="319.6">field_event_data_collectors</text>
<rect class="k" x="940" y="326.6" width="181.4" height="24"/><text x="944.5" y="343.6">site_code</text>
<rect class="k" x="940" y="350.6" width="181.4" height="24"/><text x="944.5" y="367.6">survey_date</text>
<rect class="k" x="940" y="374.6" width="181.4" height="24"/><text x="944.5" y="391.6">group_code</text>
<rect class="k" x="940" y="398.6" width="181.4" height="24"/><text x="944.5" y="415.6">survey_type_code</text>
<rect class="k" x="940" y="422.6" width="181.4" height="24"/><text x="944.5" y="439.6">target_assemblage</text>
<rect class="k" x="940" y="446.6" width="181.4" height="24"/><text x="944.5" y="463.6">personnel_code</text>
<rect class="k" x="940" y="470.6" width="181.4" height="24"/><text x="944.5" y="487.6">role_code</text>
<rect class="w" x="940" y="494.6" width="181.4" height="24"/><text x="944.5" y="511.6">create_date</text>
<rect class="w" x="940" y="518.6" width="181.4" height="24"/><text x="944.5" y="535.6">modify_date</text>
<rect class="w" x="940" y="542.6" width="181.4" height="24"/><path class="v" d="M991.8 542.6v24M1091.8 542.6v24"/>
<text x="944.5" y="559.6">&lt; 7</text><text class="r" x="1086.8" y="559.6">37,368 rows</text>
<rect class="o" x="940" y="302.6" width="181.4" height="264"/>
</g>

<g id="checklist_not_sampled">
<rect class="h" x="665" y="607.9" width="153.7" height="24"/><text class="c" x="741.85" y="624.9">checklist_not_sampled</text>
<rect class="k" x="665" y="631.9" width="153.7" height="24"/><text x="669.5" y="648.9">site_code</text>
<rect class="k" x="665" y="655.9" width="153.7" height="24"/><text x="669.5" y="672.9">survey_date</text>
<rect class="k" x="665" y="679.9" width="153.7" height="24"/><text x="669.5" y="696.9">group_code</text>
<rect class="k" x="665" y="703.9" width="153.7" height="24"/><text x="669.5" y="720.9">survey_type_code</text>
<rect class="k" x="665" y="727.9" width="153.7" height="24"/><text x="669.5" y="744.9">target_assemblage</text>
<rect class="k" x="665" y="751.9" width="153.7" height="24"/><text x="669.5" y="768.9">quatraplot_code</text>
<rect class="w" x="665" y="775.9" width="153.7" height="24"/><text x="669.5" y="792.9">create_date</text>
<rect class="w" x="665" y="799.9" width="153.7" height="24"/><text x="669.5" y="816.9">modify_date</text>
<rect class="w" x="665" y="823.9" width="153.7" height="24"/><path class="v" d="M704 823.9v24M796 823.9v24"/>
<text x="669.5" y="840.9">&lt; 6</text><text class="r" x="791" y="840.9">25,243 rows</text>
<rect class="o" x="665" y="607.9" width="153.7" height="240"/>
</g>

<g id="checklist_sampled">
<rect class="h" x="674.3" y="876.2" width="135" height="24"/><text class="c" x="741.8" y="893.2">checklist_sampled</text>
<rect class="k" x="674.3" y="900.2" width="135" height="24"/><text x="678.8" y="917.2">site_code</text>
<rect class="k" x="674.3" y="924.2" width="135" height="24"/><text x="678.8" y="941.2">survey_date</text>
<rect class="k" x="674.3" y="948.2" width="135" height="24"/><text x="678.8" y="965.2">group_code</text>
<rect class="k" x="674.3" y="972.2" width="135" height="24"/><text x="678.8" y="989.2">survey_type_code</text>
<rect class="k" x="674.3" y="996.2" width="135" height="24"/><text x="678.8" y="1013.2">target_assemblage</text>
<rect class="k" x="674.3" y="1020.2" width="135" height="24"/><text x="678.8" y="1037.2">quatraplot_code</text>
<rect class="w" x="674.3" y="1044.2" width="135" height="24"/><text x="678.8" y="1061.2">create_date</text>
<rect class="w" x="674.3" y="1068.2" width="135" height="24"/><text x="678.8" y="1085.2">modify_date</text>
<rect class="w" x="674.3" y="1092.2" width="135" height="24"/><path class="v" d="M704 1092.2v24M791.7 1092.2v24"/>
<text x="678.8" y="1109.2">&lt; 6</text><text class="r" x="786.7" y="1109.2">85,232 rows</text>
<rect class="o" x="674.3" y="876.2" width="135" height="240"/>
</g>

<g id="nps_entered">
<rect class="h" x="674.3" y="1144" width="135" height="24"/><text class="c" x="741.8" y="1161">nps_entered</text>
<rect class="k" x="674.3" y="1168" width="135" height="24"/><text x="678.8" y="1185">site_code</text>
<rect class="k" x="674.3" y="1192" width="135" height="24"/><text x="678.8" y="1209">survey_date</text>
<rect class="k" x="674.3" y="1216" width="135" height="24"/><text x="678.8" y="1233">group_code</text>
<rect class="k" x="674.3" y="1240" width="135" height="24"/><text x="678.8" y="1257">survey_type_code</text>
<rect class="k" x="674.3" y="1264" width="135" height="24"/><text x="678.8" y="1281">target_assemblage</text>
<rect class="k" x="674.3" y="1288" width="135" height="24"/><text x="678.8" y="1305">quatraplot_code</text>
<rect class="w" x="674.3" y="1312" width="135" height="24"/><text x="678.8" y="1329">create_date</text>
<rect class="w" x="674.3" y="1336" width="135" height="24"/><text x="678.8" y="1353">modify_date</text>
<rect class="w" x="674.3" y="1360" width="135" height="24"/><path class="v" d="M704 1360v24M791.7 1360v24"/>
<text x="678.8" y="1377">&lt; 6</text><text class="r" x="786.7" y="1377">40,246 rows</text>
<rect class="o" x="674.3" y="1144" width="135" height="240"/>
</g>

<g id="checklist_entered">
<rect class="h" x="674.3" y="1412.2" width="135" height="24"/><text class="c" x="741.8" y="1429.2">checklist_entered</text>
<rect class="k" x="674.3" y="1436.2" width="135" height="24"/><text x="678.8" y="1453.2">site_code</text>
<rect class="k" x="674.3" y="1460.2" width="135" height="24"/><text x="678.8" y="1477.2">survey_date</text>
<rect class="k" x="674.3" y="1484.2" width="135" height="24"/><text x="678.8" y="1501.2">group_code</text>
<rect class="k" x="674.3" y="1508.2" width="135" height="24"/><text x="678.8" y="1525.2">survey_type_code</text>
<rect class="k" x="674.3" y="1532.2" width="135" height="24"/><text x="678.8" y="1549.2">target_assemblage</text>
<rect class="k" x="674.3" y="1556.2" width="135" height="24"/><text x="678.8" y="1573.2">quatraplot_code</text>
<rect class="w" x="674.3" y="1580.2" width="135" height="24"/><text x="678.8" y="1597.2">create_date</text>
<rect class="w" x="674.3" y="1604.2" width="135" height="24"/><text x="678.8" y="1621.2">modify_date</text>
<rect class="w" x="674.3" y="1628.2" width="135" height="24"/><path class="v" d="M703.6 1628.2v24M791.8 1628.2v24"/>
<text x="678.8" y="1645.2">&lt; 6</text><text class="r" x="786.8" y="1645.2">77,335 rows</text>
<rect class="o" x="674.3" y="1412.2" width="135" height="240"/>
</g>

<g id="survey_type_codes">
<rect class="h" x="16.5" y="1251" width="221.5" height="24"/><text class="c" x="127.25" y="1268">survey_type_codes</text>
<rect class="k" x="16.5" y="1275" width="130.8" height="24"/><text x="21.5" y="1292">survey_type_code</text>
<rect class="w" x="147.3" y="1275" width="90.7" height="24"/><text x="151.5" y="1292">varchar[30]</text>
<rect class="w" x="16.5" y="1299" width="130.8" height="24"/><text x="21.5" y="1316">survey_category</text>
<rect class="w" x="147.3" y="1299" width="90.7" height="24"/><text x="151.5" y="1316">enum[9]</text>
<rect class="w" x="16.5" y="1323" width="130.8" height="24"/><text x="21.5" y="1340">survey_description</text>
<rect class="w" x="147.3" y="1323" width="90.7" height="24"/><text x="151.5" y="1340">varchar[300]</text>
<rect class="k" x="16.5" y="1347" width="130.8" height="24"/><text x="21.5" y="1364">survey_group</text>
<rect class="w" x="147.3" y="1347" width="90.7" height="24"/><text x="151.5" y="1364">enum[11]</text>
<rect class="w" x="16.5" y="1371" width="130.8" height="24"/><text x="21.5" y="1388">create_date</text>
<rect class="w" x="147.3" y="1371" width="90.7" height="24"/><text x="151.5" y="1388">date[10]</text>
<rect class="w" x="16.5" y="1395" width="221.5" height="24"/><path class="v" d="M67 1395v24M147.3 1395v24"/>
<text x="21.5" y="1412">&lt; 0</text><text class="r" x="142.3" y="1412">45 rows</text><text class="r" x="233" y="1412">16 &gt;</text>
<rect x="16.5" y="1251" width="221.5" height="168" fill="none" stroke="#111" stroke-width="2.6"/>
</g>

<g id="target_assemblages">
<rect class="h" x="59.3" y="1450.3" width="137.4" height="24"/><text class="c" x="128" y="1467.3">target_assemblages</text>
<rect class="w" x="59.3" y="1474.3" width="137.4" height="24"/><text x="63.8" y="1491.3">...</text>
<rect class="w" x="59.3" y="1498.3" width="137.4" height="24"/><path class="v" d="M87.3 1498.3v24M152.3 1498.3v24"/>
<text class="r" x="147.3" y="1515.3">30 rows</text><text class="r" x="191.7" y="1515.3">36 &gt;</text>
<rect class="o" x="59.3" y="1450.3" width="137.4" height="72"/>
</g>

<g id="checklist_supplemental_sitewide">
<rect class="h" x="326.4" y="1428" width="216.3" height="24"/><text class="c" x="434.55" y="1445">checklist_supplemental_sitewide</text>
<rect class="k" x="326.4" y="1452" width="216.3" height="24"/><text x="330.9" y="1469">site_code</text>
<rect class="k" x="326.4" y="1476" width="216.3" height="24"/><text x="330.9" y="1493">survey_type_code</text>
<rect class="w" x="326.4" y="1500" width="216.3" height="24"/><text x="330.9" y="1517">active_status</text>
<rect class="w" x="326.4" y="1524" width="216.3" height="24"/><text x="330.9" y="1541">create_date</text>
<rect class="w" x="326.4" y="1548" width="216.3" height="24"/><text x="330.9" y="1565">modify_date</text>
<rect class="w" x="326.4" y="1572" width="216.3" height="24"/><path class="v" d="M406.8 1572v24M499.8 1572v24"/>
<text x="330.9" y="1589">&lt; 2</text><text class="r" x="494.8" y="1589">833 rows</text>
<rect class="o" x="326.4" y="1428" width="216.3" height="168"/>
</g>

<g id="checklist_supplemental_sitewide_active">
<rect class="h" x="303.9" y="1624" width="261.4" height="24"/><text class="c" x="434.6" y="1641">checklist_supplemental_sitewide_active</text>
<rect class="k" x="303.9" y="1648" width="261.4" height="24"/><text x="308.4" y="1665">site_code</text>
<rect class="k" x="303.9" y="1672" width="261.4" height="24"/><text x="308.4" y="1689">survey_type_code</text>
<rect class="w" x="303.9" y="1696" width="261.4" height="24"/><path class="v" d="M406.8 1696v24M510.9 1696v24"/>
<text x="308.4" y="1713">&lt; 2</text><text class="r" x="505.9" y="1713">845 rows</text>
<rect class="o" x="303.9" y="1624" width="261.4" height="96"/>
</g>

<g id="abhab_not_sampled">
<rect class="h" x="961.4" y="1653.7" width="138.6" height="24"/><text class="c" x="1030.7" y="1670.7">abhab_not_sampled</text>
<rect class="k" x="961.4" y="1677.7" width="138.6" height="24"/><text x="965.9" y="1694.7">site_code</text>
<rect class="k" x="961.4" y="1701.7" width="138.6" height="24"/><text x="965.9" y="1718.7">survey_date</text>
<rect class="k" x="961.4" y="1725.7" width="138.6" height="24"/><text x="965.9" y="1742.7">group_code</text>
<rect class="k" x="961.4" y="1749.7" width="138.6" height="24"/><text x="965.9" y="1766.7">survey_type_code</text>
<rect class="k" x="961.4" y="1773.7" width="138.6" height="24"/><text x="965.9" y="1790.7">target_assemblage</text>
<rect class="k" x="961.4" y="1797.7" width="138.6" height="24"/><text x="965.9" y="1814.7">segment_id</text>
<rect class="w" x="961.4" y="1821.7" width="138.6" height="24"/><text x="965.9" y="1838.7">create_date</text>
<rect class="w" x="961.4" y="1845.7" width="138.6" height="24"/><text x="965.9" y="1862.7">modify_date</text>
<rect class="w" x="961.4" y="1869.7" width="138.6" height="24"/><path class="v" d="M1014.3 1869.7v24M1074.3 1869.7v24"/>
<text x="965.9" y="1886.7">&lt; 10</text><text class="r" x="1069.3" y="1886.7">0 rows</text>
<rect class="o" x="961.4" y="1653.7" width="138.6" height="240"/>
</g>

<g id="abhab_segment_info">
<rect class="h" x="670.7" y="1788" width="142.5" height="24"/><text class="c" x="741.95" y="1805">abhab_segment_info</text>
<rect class="w" x="670.7" y="1812" width="142.5" height="24"/><text x="675.2" y="1829">...</text>
<rect class="w" x="670.7" y="1836" width="142.5" height="24"/><path class="v" d="M703.6 1836v24M773.2 1836v24"/>
<text x="675.2" y="1853">&lt; 9</text><text class="r" x="768.2" y="1853">226 rows</text><text class="r" x="808.2" y="1853">12 &gt;</text>
<rect class="o" x="670.7" y="1788" width="142.5" height="72"/>
</g>

<g id="abhab_sampled">
<rect class="h" x="965" y="1921.4" width="131.4" height="24"/><text class="c" x="1030.7" y="1938.4">abhab_sampled</text>
<rect class="k" x="965" y="1945.4" width="131.4" height="24"/><text x="969.5" y="1962.4">site_code</text>
<rect class="k" x="965" y="1969.4" width="131.4" height="24"/><text x="969.5" y="1986.4">survey_date</text>
<rect class="k" x="965" y="1993.4" width="131.4" height="24"/><text x="969.5" y="2010.4">group_code</text>
<rect class="k" x="965" y="2017.4" width="131.4" height="24"/><text x="969.5" y="2034.4">survey_type_code</text>
<rect class="k" x="965" y="2041.4" width="131.4" height="24"/><text x="969.5" y="2058.4">target_assemblage</text>
<rect class="k" x="965" y="2065.4" width="131.4" height="24"/><text x="969.5" y="2082.4">segment_id</text>
<rect class="w" x="965" y="2089.4" width="131.4" height="24"/><text x="969.5" y="2106.4">create_date</text>
<rect class="w" x="965" y="2113.4" width="131.4" height="24"/><text x="969.5" y="2130.4">modify_date</text>
<rect class="w" x="965" y="2137.4" width="131.4" height="24"/><path class="v" d="M1006.4 2137.4v24M1075.7 2137.4v24"/>
<text x="969.5" y="2154.4">&lt; 10</text><text class="r" x="1070.7" y="2154.4">203 rows</text>
<rect class="o" x="965" y="1921.4" width="131.4" height="240"/>
</g>

<g id="photo_plot_target_assemblages">
<rect class="h" x="634.6" y="2031.8" width="213.6" height="24"/><text class="c" x="741.4" y="2048.8">photo_plot_target_assemblages</text>
<rect class="w" x="634.6" y="2055.8" width="213.6" height="24"/><text x="639.1" y="2072.8">...</text>
<rect class="w" x="634.6" y="2079.8" width="213.6" height="24"/><path class="v" d="M706.4 2079.8v24M788.2 2079.8v24"/>
<text x="639.1" y="2096.8">&lt; 1</text><text class="r" x="783.2" y="2096.8">20 rows</text><text class="r" x="843.2" y="2096.8">10 &gt;</text>
<rect class="o" x="634.6" y="2031.8" width="213.6" height="72"/>
</g>

<g id="abalone_empty_shells">
<rect class="h" x="666.7" y="2132.3" width="150.6" height="24"/><text class="c" x="742" y="2149.3">abalone_empty_shells</text>
<rect class="w" x="666.7" y="2156.3" width="150.6" height="24"/><text x="671.2" y="2173.3">...</text>
<rect class="w" x="666.7" y="2180.3" width="150.6" height="24"/><path class="v" d="M712 2180.3v24M796 2180.3v24"/>
<text x="671.2" y="2197.3">&lt; 15</text><text class="r" x="791" y="2197.3">1,648 rows</text>
<rect class="o" x="666.7" y="2132.3" width="150.6" height="72"/>
</g>

<g id="cryptochiton_count_sizes">
<rect class="h" x="657.3" y="2232.2" width="169.4" height="24"/><text class="c" x="742" y="2249.2">cryptochiton_count_sizes</text>
<rect class="w" x="657.3" y="2256.2" width="169.4" height="24"/><text x="661.8" y="2273.2">...</text>
<rect class="w" x="657.3" y="2280.2" width="169.4" height="24"/><path class="v" d="M717.3 2280.2v24M797.3 2280.2v24"/>
<text x="661.8" y="2297.2">&lt; 13</text><text class="r" x="792.3" y="2297.2">901 rows</text>
<rect class="o" x="657.3" y="2232.2" width="169.4" height="72"/>
</g>

<g id="katharina_count_sizes">
<rect class="h" x="666.7" y="2332" width="150.6" height="24"/><text class="c" x="742" y="2349">katharina_count_sizes</text>
<rect class="w" x="666.7" y="2356" width="150.6" height="24"/><text x="671.2" y="2373">...</text>
<rect class="w" x="666.7" y="2380" width="150.6" height="24"/><path class="v" d="M712 2380v24M796 2380v24"/>
<text x="671.2" y="2397">&lt; 13</text><text class="r" x="791" y="2397">5,939 rows</text>
<rect class="o" x="666.7" y="2332" width="150.6" height="72"/>
</g>

<g id="lottia_cover">
<rect class="h" x="678.7" y="2432.3" width="126.6" height="24"/><text class="c" x="742" y="2449.3">lottia_cover</text>
<rect class="w" x="678.7" y="2456.3" width="126.6" height="24"/><text x="683.2" y="2473.3">...</text>
<rect class="w" x="678.7" y="2480.3" width="126.6" height="24"/><path class="v" d="M707.7 2480.3v24M788 2480.3v24"/>
<text x="683.2" y="2497.3">&lt; 9</text><text class="r" x="783" y="2497.3">1,930 rows</text>
<rect class="o" x="678.7" y="2432.3" width="126.6" height="72"/>
</g>

<g id="mussel_depths">
<rect class="h" x="670.7" y="2532.2" width="142.6" height="24"/><text class="c" x="742" y="2549.2">mussel_depths</text>
<rect class="w" x="670.7" y="2556.2" width="142.6" height="24"/><text x="675.2" y="2573.2">...</text>
<rect class="w" x="670.7" y="2580.2" width="142.6" height="24"/><path class="v" d="M707.7 2580.2v24M796 2580.2v24"/>
<text x="675.2" y="2597.2">&lt; 11</text><text class="r" x="791" y="2597.2">14,734 rows</text>
<rect class="o" x="670.7" y="2532.2" width="142.6" height="72"/>
</g>

<g id="mussel_sizes">
<rect class="h" x="670.7" y="2632.1" width="142.6" height="24"/><text class="c" x="742" y="2649.1">mussel_sizes</text>
<rect class="w" x="670.7" y="2656.1" width="142.6" height="24"/><text x="675.2" y="2673.1">...</text>
<rect class="w" x="670.7" y="2680.1" width="142.6" height="24"/><path class="v" d="M707.7 2680.1v24M796 2680.1v24"/>
<text x="675.2" y="2697.1">&lt; 11</text><text class="r" x="791" y="2697.1">17,349 rows</text>
<rect class="o" x="670.7" y="2632.1" width="142.6" height="72"/>
</g>

<g id="seagrass_cover">
<rect class="h" x="678.7" y="2732" width="126.6" height="24"/><text class="c" x="742" y="2749">seagrass_cover</text>
<rect class="w" x="678.7" y="2756" width="126.6" height="24"/><text x="683.2" y="2773">...</text>
<rect class="w" x="678.7" y="2780" width="126.6" height="24"/><path class="v" d="M707.7 2780v24M788 2780v24"/>
<text x="683.2" y="2797">&lt; 9</text><text class="r" x="783" y="2797">3,169 rows</text>
<rect class="o" x="678.7" y="2732" width="126.6" height="72"/>
</g>

<g id="seagrass_thickness">
<rect class="h" x="674.7" y="2831.7" width="134.6" height="24"/><text class="c" x="742" y="2848.7">seagrass_thickness</text>
<rect class="w" x="674.7" y="2855.7" width="134.6" height="24"/><text x="679.2" y="2872.7">...</text>
<rect class="w" x="674.7" y="2879.7" width="134.6" height="24"/><path class="v" d="M704.3 2879.7v24M792 2879.7v24"/>
<text x="679.2" y="2896.7">&lt; 9</text><text class="r" x="787" y="2896.7">16,639 rows</text>
<rect class="o" x="674.7" y="2831.7" width="134.6" height="72"/>
</g>

<g id="subsampled_plot_info">
<rect class="h" x="361.4" y="1819.6" width="147.9" height="24"/><text class="c" x="435.35" y="1836.6">subsampled_plot_info</text>
<rect class="k" x="361.4" y="1843.6" width="147.9" height="24"/><text x="365.9" y="1860.6">site_code</text>
<rect class="k" x="361.4" y="1867.6" width="147.9" height="24"/><text x="365.9" y="1884.6">target_assemblage</text>
<rect class="k" x="361.4" y="1891.6" width="147.9" height="24"/><text x="365.9" y="1908.6">survey_type_code</text>
<rect class="k" x="361.4" y="1915.6" width="147.9" height="24"/><text x="365.9" y="1932.6">quatraplot_code</text>
<rect class="y" x="361.4" y="1939.6" width="147.9" height="24"/><text x="365.9" y="1956.6">sub_plot_code</text>
<rect class="w" x="361.4" y="1963.6" width="147.9" height="24"/><text x="365.9" y="1980.6">multiplier</text>
<rect class="w" x="361.4" y="1987.6" width="147.9" height="24"/><text x="365.9" y="2004.6">create_date</text>
<rect class="w" x="361.4" y="2011.6" width="147.9" height="24"/><text x="365.9" y="2028.6">modify_date</text>
<rect class="w" x="361.4" y="2035.6" width="147.9" height="24"/><path class="v" d="M410.7 2035.6v24M481.4 2035.6v24"/>
<text x="365.9" y="2052.6">&lt; 5</text><text class="r" x="476.4" y="2052.6">22 rows</text>
<rect class="o" x="361.4" y="1819.6" width="147.9" height="240"/>
</g>

<g id="marine_sites">
<rect class="h" x="60.7" y="2064" width="134.7" height="24"/><text class="c" x="128.05" y="2081">marine_sites</text>
<rect class="w" x="60.7" y="2088" width="134.7" height="24"/><text x="65.2" y="2105">...</text>
<rect class="w" x="60.7" y="2112" width="134.7" height="24"/><path class="v" d="M90 2112v24M157.9 2112v24"/>
<text x="65.2" y="2129">&lt; 1</text><text class="r" x="152.9" y="2129">292 rows</text><text class="r" x="190.4" y="2129">41 &gt;</text>
<rect class="o" x="60.7" y="2064" width="134.7" height="72"/>
</g>

<g id="quatraplot_codes">
<rect class="h" x="66.1" y="2163.7" width="122.5" height="24"/><text class="c" x="127.35" y="2180.7">quatraplot_codes</text>
<rect class="w" x="66.1" y="2187.7" width="122.5" height="24"/><text x="70.6" y="2204.7">...</text>
<rect class="w" x="66.1" y="2211.7" width="122.5" height="24"/><path class="v" d="M83.2 2211.7v24M151.8 2211.7v24"/>
<text class="r" x="146.8" y="2228.7">535 rows</text><text class="r" x="183.6" y="2228.7">29 &gt;</text>
<rect class="o" x="66.1" y="2163.7" width="122.5" height="72"/>
</g>

<g id="field_events">
<rect class="h" x="357.1" y="2231.5" width="154.7" height="24"/><text class="c" x="434.45" y="2248.5">field_events</text>
<rect class="w" x="357.1" y="2255.5" width="154.7" height="24"/><text x="361.6" y="2272.5">...</text>
<rect class="w" x="357.1" y="2279.5" width="154.7" height="24"/><path class="v" d="M386.4 2279.5v24M466.8 2279.5v24"/>
<text x="361.6" y="2296.5">&lt; 4</text><text class="r" x="461.8" y="2296.5">6,067 rows</text><text class="r" x="506.8" y="2296.5">159 &gt;</text>
<rect class="o" x="357.1" y="2231.5" width="154.7" height="72"/>
</g>

<g id="secondary_plot_info">
<rect class="h" x="361.4" y="2395.7" width="146.5" height="24"/><text class="c" x="434.65" y="2412.7">secondary_plot_info</text>
<rect class="k" x="361.4" y="2419.7" width="146.5" height="24"/><text x="365.9" y="2436.7">site_code</text>
<rect class="k" x="361.4" y="2443.7" width="146.5" height="24"/><text x="365.9" y="2460.7">target_assemblage</text>
<rect class="k" x="361.4" y="2467.7" width="146.5" height="24"/><text x="365.9" y="2484.7">survey_type_code</text>
<rect class="k" x="361.4" y="2491.7" width="146.5" height="24"/><text x="365.9" y="2508.7">quatraplot_code</text>
<rect class="w" x="361.4" y="2515.7" width="146.5" height="24"/><text x="365.9" y="2532.7">active_status</text>
<rect class="w" x="361.4" y="2539.7" width="146.5" height="24"/><text x="365.9" y="2556.7">create_date</text>
<rect class="w" x="361.4" y="2563.7" width="146.5" height="24"/><text x="365.9" y="2580.7">modify_date</text>
<rect class="w" x="361.4" y="2587.7" width="146.5" height="24"/><path class="v" d="M391.1 2587.7v24M470.7 2587.7v24"/>
<text x="365.9" y="2604.7">&lt; 4</text><text class="r" x="465.7" y="2604.7">3,017 rows</text><text class="r" x="502.9" y="2604.7">32 &gt;</text>
<rect class="o" x="361.4" y="2395.7" width="146.5" height="216"/>
</g>

<g id="abhab_segment_ids">
<rect class="h" x="366.4" y="2917" width="137.6" height="24"/><text class="c" x="435.2" y="2934">abhab_segment_ids</text>
<rect class="w" x="366.4" y="2941" width="137.6" height="24"/><text x="370.9" y="2958">...</text>
<rect class="w" x="366.4" y="2965" width="137.6" height="24"/><path class="v" d="M394.9 2965v24M460.2 2965v24"/>
<text class="r" x="455.2" y="2982">70 rows</text><text class="r" x="499" y="2982">10 &gt;</text>
<rect class="o" x="366.4" y="2917" width="137.6" height="72"/>
</g>

<g id="abhab_not_sampled_active">
<rect class="h" x="939" y="2951.8" width="183.8" height="24"/><text class="c" x="1030.9" y="2968.8">abhab_not_sampled_active</text>
<rect class="k" x="939" y="2975.8" width="183.8" height="24"/><text x="943.5" y="2992.8">site_code</text>
<rect class="k" x="939" y="2999.8" width="183.8" height="24"/><text x="943.5" y="3016.8">survey_date</text>
<rect class="k" x="939" y="3023.8" width="183.8" height="24"/><text x="943.5" y="3040.8">group_code</text>
<rect class="k" x="939" y="3047.8" width="183.8" height="24"/><text x="943.5" y="3064.8">survey_type_code</text>
<rect class="k" x="939" y="3071.8" width="183.8" height="24"/><text x="943.5" y="3088.8">target_assemblage</text>
<rect class="k" x="939" y="3095.8" width="183.8" height="24"/><text x="943.5" y="3112.8">segment_id</text>
<rect class="w" x="939" y="3119.8" width="183.8" height="24"/><text x="943.5" y="3136.8">create_date</text>
<rect class="w" x="939" y="3143.8" width="183.8" height="24"/><text x="943.5" y="3160.8">modify_date</text>
<rect class="w" x="939" y="3167.8" width="183.8" height="24"/><path class="v" d="M1014.8 3167.8v24M1085.5 3167.8v24"/>
<text x="943.5" y="3184.8">&lt; 10</text><text class="r" x="1080.5" y="3184.8">0 rows</text>
<rect class="o" x="939" y="2951.8" width="183.8" height="240"/>
</g>

<g id="abhab_segment_info_active">
<rect class="h" x="648.3" y="3075.8" width="187.6" height="24"/><text class="c" x="742.1" y="3092.8">abhab_segment_info_active</text>
<rect class="w" x="648.3" y="3099.8" width="187.6" height="24"/><text x="652.8" y="3116.8">...</text>
<rect class="w" x="648.3" y="3123.8" width="187.6" height="24"/><path class="v" d="M711.4 3123.8v24M781.6 3123.8v24"/>
<text x="652.8" y="3140.8">&lt; 9</text><text class="r" x="776.6" y="3140.8">0 rows</text><text class="r" x="830.9" y="3140.8">12 &gt;</text>
<rect class="o" x="648.3" y="3075.8" width="187.6" height="72"/>
</g>

<g id="abhab_sampled_active">
<rect class="h" x="953.9" y="3219.7" width="155.7" height="24"/><text class="c" x="1031.75" y="3236.7">abhab_sampled_active</text>
<rect class="k" x="953.9" y="3243.7" width="155.7" height="24"/><text x="958.4" y="3260.7">site_code</text>
<rect class="k" x="953.9" y="3267.7" width="155.7" height="24"/><text x="958.4" y="3284.7">survey_date</text>
<rect class="k" x="953.9" y="3291.7" width="155.7" height="24"/><text x="958.4" y="3308.7">group_code</text>
<rect class="k" x="953.9" y="3315.7" width="155.7" height="24"/><text x="958.4" y="3332.7">survey_type_code</text>
<rect class="k" x="953.9" y="3339.7" width="155.7" height="24"/><text x="958.4" y="3356.7">target_assemblage</text>
<rect class="k" x="953.9" y="3363.7" width="155.7" height="24"/><text x="958.4" y="3380.7">segment_id</text>
<rect class="w" x="953.9" y="3387.7" width="155.7" height="24"/><text x="958.4" y="3404.7">create_date</text>
<rect class="w" x="953.9" y="3411.7" width="155.7" height="24"/><text x="958.4" y="3428.7">modify_date</text>
<rect class="w" x="953.9" y="3435.7" width="155.7" height="24"/><path class="v" d="M1014.5 3435.7v24M1079 3435.7v24"/>
<text x="958.4" y="3452.7">&lt; 10</text><text class="r" x="1074" y="3452.7">0 rows</text>
<rect class="o" x="953.9" y="3219.7" width="155.7" height="240"/>
</g>

<g id="abhab_plots_not_sampled_active">
<rect class="h" x="630.8" y="3211.7" width="221" height="24"/><text class="c" x="741.3" y="3228.7">abhab_plots_not_sampled_active</text>
<rect class="w" x="630.8" y="3235.7" width="221" height="24"/><text x="635.3" y="3252.7">...</text>
<rect class="w" x="630.8" y="3259.7" width="221" height="24"/><path class="v" d="M721.3 3259.7v24M804.7 3259.7v24"/>
<text x="635.3" y="3276.7">&lt; 7</text><text class="r" x="799.7" y="3276.7">0 rows</text>
<rect class="o" x="630.8" y="3211.7" width="221" height="72"/>
</g>

<g id="abhab_plots_sampled_active">
<rect class="h" x="645.6" y="3311.9" width="193.1" height="24"/><text class="c" x="742.15" y="3328.9">abhab_plots_sampled_active</text>
<rect class="w" x="645.6" y="3335.9" width="193.1" height="24"/><text x="650.1" y="3352.9">...</text>
<rect class="w" x="645.6" y="3359.9" width="193.1" height="24"/><path class="v" d="M721.3 3359.9v24M797 3359.9v24"/>
<text x="650.1" y="3376.9">&lt; 7</text><text class="r" x="792" y="3376.9">0 rows</text>
<rect class="o" x="645.6" y="3311.9" width="193.1" height="72"/>
</g>

<g id="checklist_quatraplots_active">
<rect class="h" x="341.5" y="3325.2" width="186.7" height="24"/><text class="c" x="434.85" y="3342.2">checklist_quatraplots_active</text>
<rect class="k" x="341.5" y="3349.2" width="186.7" height="24"/><text x="346" y="3366.2">site_code</text>
<rect class="k" x="341.5" y="3373.2" width="186.7" height="24"/><text x="346" y="3390.2">survey_type_code</text>
<rect class="k" x="341.5" y="3397.2" width="186.7" height="24"/><text x="346" y="3414.2">target_assemblage</text>
<rect class="k" x="341.5" y="3421.2" width="186.7" height="24"/><text x="346" y="3438.2">quatraplot_code</text>
<rect class="w" x="341.5" y="3445.2" width="186.7" height="24"/><path class="v" d="M390.7 3445.2v24M479.9 3445.2v24"/>
<text x="346" y="3462.2">&lt; 4</text><text class="r" x="474.9" y="3462.2">6,228 rows</text><text class="r" x="523.2" y="3462.2">20 &gt;</text>
<rect class="o" x="341.5" y="3325.2" width="186.7" height="144"/>
</g>

<g id="checklist_entered_active">
<rect class="h" x="659.2" y="3411.9" width="164.7" height="24"/><text class="c" x="741.55" y="3428.9">checklist_entered_active</text>
<rect class="w" x="659.2" y="3435.9" width="164.7" height="24"/><text x="663.7" y="3452.9">...</text>
<rect class="w" x="659.2" y="3459.9" width="164.7" height="24"/><path class="v" d="M721.4 3459.9v24M789.1 3459.9v24"/>
<text x="663.7" y="3476.9">&lt; 7</text><text class="r" x="784.1" y="3476.9">0 rows</text>
<rect class="o" x="659.2" y="3411.9" width="164.7" height="72"/>
</g>

<g id="checklist_not_sampled_active">
<rect class="h" x="642.9" y="3511.6" width="197.1" height="24"/><text class="c" x="741.45" y="3528.6">checklist_not_sampled_active</text>
<rect class="w" x="642.9" y="3535.6" width="197.1" height="24"/><text x="647.4" y="3552.6">...</text>
<rect class="w" x="642.9" y="3559.6" width="197.1" height="24"/><path class="v" d="M721.4 3559.6v24M797.1 3559.6v24"/>
<text x="647.4" y="3576.6">&lt; 7</text><text class="r" x="792.1" y="3576.6">0 rows</text>
<rect class="o" x="642.9" y="3511.6" width="197.1" height="72"/>
</g>

<g id="checklist_sampled_active">
<rect class="h" x="657.1" y="3611.9" width="169.5" height="24"/><text class="c" x="741.85" y="3628.9">checklist_sampled_active</text>
<rect class="w" x="657.1" y="3635.9" width="169.5" height="24"/><text x="661.6" y="3652.9">...</text>
<rect class="w" x="657.1" y="3659.9" width="169.5" height="24"/><path class="v" d="M721.4 3659.9v24M790.6 3659.9v24"/>
<text x="661.6" y="3676.9">&lt; 7</text><text class="r" x="785.6" y="3676.9">0 rows</text>
<rect class="o" x="657.1" y="3611.9" width="169.5" height="72"/>
</g>

<g id="field_events_active">
<rect class="h" x="370.8" y="3734.7" width="129" height="24"/><text class="c" x="435.3" y="3751.7">field_events_active</text>
<rect class="w" x="370.8" y="3758.7" width="129" height="24"/><text x="375.3" y="3775.7">...</text>
<rect class="w" x="370.8" y="3782.7" width="129" height="24"/><path class="v" d="M401.4 3782.7v24M453.5 3782.7v24"/>
<text x="375.3" y="3799.7">&lt; 4</text><text class="r" x="448.5" y="3799.7">0 rows</text><text class="r" x="494.8" y="3799.7">144 &gt;</text>
<rect class="o" x="370.8" y="3734.7" width="129" height="72"/>
</g>

<g id="mussel_sizes_active">
<rect class="h" x="672" y="3855.8" width="138.5" height="24"/><text class="c" x="741.25" y="3872.8">mussel_sizes_active</text>
<rect class="w" x="672" y="3879.8" width="138.5" height="24"/><text x="676.5" y="3896.8">...</text>
<rect class="w" x="672" y="3903.8" width="138.5" height="24"/><path class="v" d="M725.2 3903.8v24M785.3 3903.8v24"/>
<text x="676.5" y="3920.8">&lt; 11</text><text class="r" x="780.3" y="3920.8">0 rows</text>
<rect class="o" x="672" y="3855.8" width="138.5" height="72"/>
</g>

<g id="seagrass_cover_active">
<rect class="h" x="664" y="3955.4" width="154.6" height="24"/><text class="c" x="741.3" y="3972.4">seagrass_cover_active</text>
<rect class="w" x="664" y="3979.4" width="154.6" height="24"/><text x="668.5" y="3996.4">...</text>
<rect class="w" x="664" y="4003.4" width="154.6" height="24"/><path class="v" d="M721.4 4003.4v24M786.8 4003.4v24"/>
<text x="668.5" y="4020.4">&lt; 9</text><text class="r" x="781.8" y="4020.4">0 rows</text>
<rect class="o" x="664" y="3955.4" width="154.6" height="72"/>
</g>

<g id="seagrass_thickness_active">
<rect class="h" x="651.7" y="4055.6" width="179.1" height="24"/><text class="c" x="741.25" y="4072.6">seagrass_thickness_active</text>
<rect class="w" x="651.7" y="4079.6" width="179.1" height="24"/><text x="656.2" y="4096.6">...</text>
<rect class="w" x="651.7" y="4103.6" width="179.1" height="24"/><path class="v" d="M721.4 4103.6v24M793.3 4103.6v24"/>
<text x="656.2" y="4120.6">&lt; 7</text><text class="r" x="788.3" y="4120.6">0 rows</text>
<rect class="o" x="651.7" y="4055.6" width="179.1" height="72"/>
</g>

<g id="abalone_empty_shells_active">
<rect class="h" x="643.7" y="4155.9" width="196.3" height="24"/><text class="c" x="741.85" y="4172.9">abalone_empty_shells_active</text>
<rect class="w" x="643.7" y="4179.9" width="196.3" height="24"/><text x="648.2" y="4196.9">...</text>
<rect class="w" x="643.7" y="4203.9" width="196.3" height="24"/><path class="v" d="M725.2 4203.9v24M800.2 4203.9v24"/>
<text x="648.2" y="4220.9">&lt; 15</text><text class="r" x="795.2" y="4220.9">0 rows</text>
<rect class="o" x="643.7" y="4155.9" width="196.3" height="72"/>
</g>

<g id="cryptochiton_count_sizes_active">
<rect class="h" x="634.5" y="4256" width="213.9" height="24"/><text class="c" x="741.45" y="4273">cryptochiton_count_sizes_active</text>
<rect class="w" x="634.5" y="4280" width="213.9" height="24"/><text x="639" y="4297">...</text>
<rect class="w" x="634.5" y="4304" width="213.9" height="24"/><path class="v" d="M725.2 4304v24M804.4 4304v24"/>
<text x="639" y="4321">&lt; 13</text><text class="r" x="799.4" y="4321">0 rows</text>
<rect class="o" x="634.5" y="4256" width="213.9" height="72"/>
</g>

<g id="katharina_count_sizes_active">
<rect class="h" x="643.7" y="4355.8" width="196.3" height="24"/><text class="c" x="741.85" y="4372.8">katharina_count_sizes_active</text>
<rect class="w" x="643.7" y="4379.8" width="196.3" height="24"/><text x="648.2" y="4396.8">...</text>
<rect class="w" x="643.7" y="4403.8" width="196.3" height="24"/><path class="v" d="M725.2 4403.8v24M800.2 4403.8v24"/>
<text x="648.2" y="4420.8">&lt; 13</text><text class="r" x="795.2" y="4420.8">0 rows</text>
<rect class="o" x="643.7" y="4355.8" width="196.3" height="72"/>
</g>

<g id="lottia_cover_active">
<rect class="h" x="678.5" y="4456" width="127" height="24"/><text class="c" x="742" y="4473">lottia_cover_active</text>
<rect class="w" x="678.5" y="4480" width="127" height="24"/><text x="683" y="4497">...</text>
<rect class="w" x="678.5" y="4504" width="127" height="24"/><path class="v" d="M721.4 4504v24M779.9 4504v24"/>
<text x="683" y="4521">&lt; 9</text><text class="r" x="774.9" y="4521">0 rows</text>
<rect class="o" x="678.5" y="4456" width="127" height="72"/>
</g>

<g id="mussel_depths_active">
<rect class="h" x="666.6" y="4556.2" width="149.7" height="24"/><text class="c" x="741.45" y="4573.2">mussel_depths_active</text>
<rect class="w" x="666.6" y="4580.2" width="149.7" height="24"/><text x="671.1" y="4597.2">...</text>
<rect class="w" x="666.6" y="4604.2" width="149.7" height="24"/><path class="v" d="M725.2 4604.2v24M788.3 4604.2v24"/>
<text x="671.1" y="4621.2">&lt; 11</text><text class="r" x="783.3" y="4621.2">0 rows</text>
<rect class="o" x="666.6" y="4556.2" width="149.7" height="72"/>
</g>

<g id="secondary_plot_info_active">
<rect class="h" x="344" y="4120.1" width="181.4" height="24"/><text class="c" x="434.7" y="4137.1">secondary_plot_info_active</text>
<rect class="k" x="344" y="4144.1" width="181.4" height="24"/><text x="348.5" y="4161.1">site_code</text>
<rect class="k" x="344" y="4168.1" width="181.4" height="24"/><text x="348.5" y="4185.1">target_assemblage</text>
<rect class="k" x="344" y="4192.1" width="181.4" height="24"/><text x="348.5" y="4209.1">survey_type_code</text>
<rect class="k" x="344" y="4216.1" width="181.4" height="24"/><text x="348.5" y="4233.1">quatraplot_code</text>
<rect class="w" x="344" y="4240.1" width="181.4" height="24"/><path class="v" d="M390.7 4240.1v24M478.7 4240.1v24"/>
<text x="348.5" y="4257.1">&lt; 4</text><text class="r" x="473.7" y="4257.1">1,681 rows</text><text class="r" x="520.4" y="4257.1">32 &gt;</text>
<rect class="o" x="344" y="4120.1" width="181.4" height="144"/>
</g>

<text x="16.7" y="4723">Generated by SchemaSpy</text>
</g>
</svg>
